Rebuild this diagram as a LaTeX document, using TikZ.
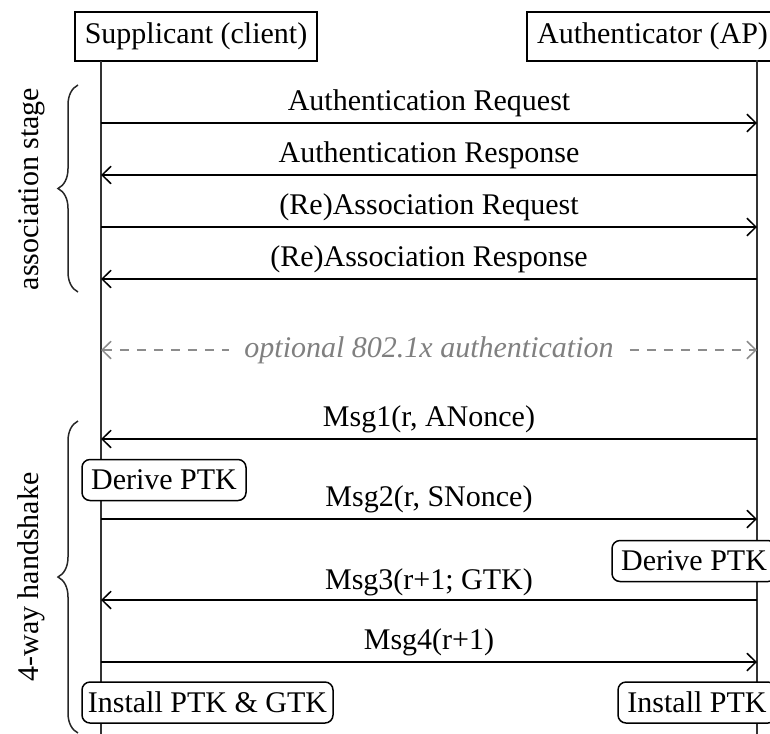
\documentclass[tikz,border=0pt]{standalone}
\usepackage{fontspec}
\setmainfont{Liberation Serif}
\usetikzlibrary{arrows.meta,decorations.pathreplacing}
\begin{document}
\begin{tikzpicture}[x=0.4pt,y=-0.4pt,
  every node/.style={font=\fontsize{12}{14}\selectfont, inner sep=0pt},
  actor/.style={draw, line width=0.6pt, fill=white, minimum height=19.6pt},
  task/.style={draw, line width=0.6pt, fill=white, rounded corners=3.2pt, minimum height=16.4pt},
  life/.style={line width=0.6pt, black!80},
  msg/.style={line width=0.6pt, -{Straight Barb[length=3.6pt,width=7pt]}},
  lbl/.style={midway, yshift=8pt},
  opt/.style={line width=0.6pt, black!45, dash pattern=on 3.8pt off 3pt, {Straight Barb[length=3.6pt,width=7pt]}-{Straight Barb[length=3.6pt,width=7pt]}},
  optlbl/.style={midway, fill=white, inner xsep=6pt, inner ysep=2pt, text=black!50, font=\fontsize{12}{14}\selectfont\itshape},
  stage/.style={rotate=90},
  bracestyle/.style={line width=0.6pt, black!85, decorate, decoration={brace, amplitude=8pt}}
]
\useasboundingbox (0,0) rectangle (770,733);
\clip (0,0) rectangle (770,733);

% actors
\node[actor, minimum width=96.8pt] (sup) at (196,36.5) {Supplicant (client)};
\node[actor, minimum width=100.4pt] (auth) at (652.5,36.5) {Authenticator (AP)};

% lifeline coordinates
\coordinate (stop) at (101,61);
\coordinate (sbot) at (101,740);
\coordinate (atop) at (757,60);
\coordinate (abot) at (757,740);
\draw[life] (stop) -- (sbot);
\draw[life] (atop) -- (abot);

% message end points
\foreach \n/\y in {1/123,2/175,3/227,4/279,5/350,6/439,7/519,8/600,9/662}{
  \coordinate (s\n) at (101,\y);
  \coordinate (a\n) at (757,\y);
}

% association stage
\draw[msg] (s1) -- node[lbl] (l1) {Authentication Request} (a1);
\draw[msg] (a2) -- node[lbl] (l2) {Authentication Response} (s2);
\draw[msg] (s3) -- node[lbl] (l3) {(Re)Association Request} (a3);
\draw[msg] (a4) -- node[lbl] (l4) {(Re)Association Response} (s4);

% optional
\draw[opt] (s5) -- node[optlbl] (l5) {optional 802.1x authentication} (a5);

% 4-way handshake
\draw[msg] (a6) -- node[lbl] (l6) {Msg1(r, ANonce)} (s6);
\node[task, minimum width=65.6pt] (d1) at (164,480) {Derive PTK};
\draw[msg] (s7) -- node[lbl] (l7) {Msg2(r, SNonce)} (a7);
\node[task, minimum width=65.6pt] (d2) at (694,561) {Derive PTK};
\draw[msg] (a8) -- node[lbl, yshift=-0.8pt] (l8) {Msg3(r+1; GTK)} (s8);
\draw[msg] (s9) -- node[lbl] (l9) {Msg4(r+1)} (a9);
\node[task, minimum width=100.4pt] (i1) at (207.5,702.5) {Install PTK \& GTK};
\node[task, minimum width=63.2pt] (i2) at (697,702.5) {Install PTK};

% braces
\coordinate (b1a) at (78,292);
\coordinate (b1b) at (78,85);
\coordinate (b2a) at (78,733);
\coordinate (b2b) at (78,421);
\draw[bracestyle] (b1a) -- (b1b);
\draw[bracestyle] (b2a) -- (b2b);
\node[stage] (st1) at (32,189) {association stage};
\node[stage] (st2) at (31,577) {4-way handshake};
\end{tikzpicture}
\end{document}
